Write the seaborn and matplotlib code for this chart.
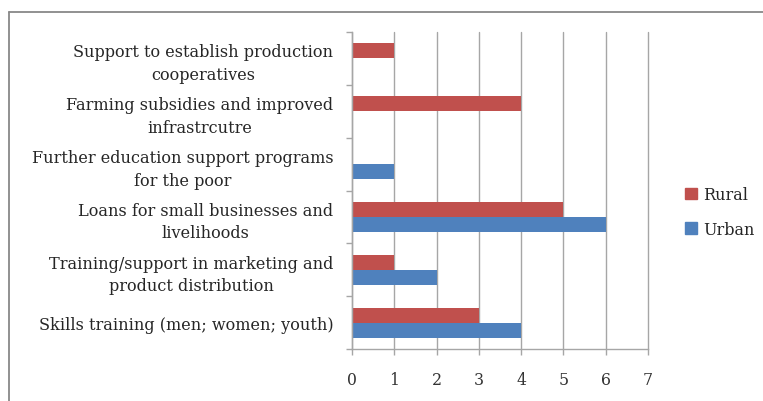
import matplotlib
matplotlib.use("Agg")
import matplotlib.pyplot as plt
import seaborn as sns
import pandas as pd
from matplotlib.lines import Line2D

categories = [
    "Support to establish production\ncooperatives",
    "Farming subsidies and improved\ninfrastrcutre",
    "Further education support programs\nfor the poor",
    "Loans for small businesses and\nlivelihoods",
    "Training/support in marketing and\nproduct distribution",
    "Skills training (men; women; youth)",
]
rural = [1, 4, 0, 5, 1, 3]
urban = [0, 0, 1, 6, 2, 4]
series_names = ["Rural", "Urban"]
x_ticks = [0, 1, 2, 3, 4, 5, 6, 7]

sns.set_theme(style="white")
plt.rcParams["font.family"] = ["DejaVu Serif"]

df = pd.DataFrame({
    "category": categories * 2,
    "value": rural + urban,
    "series": [series_names[0]] * len(categories) + [series_names[1]] * len(categories),
})

fig = plt.figure(figsize=(7.63, 4.02), dpi=100)
ax = fig.add_axes([352/763, 1 - 350/402, (648-352)/763, (350-33)/402])

sns.barplot(data=df, y="category", x="value", hue="series", hue_order=series_names,
            order=categories, orient="h", palette=["#C0504D", "#4F81BD"], saturation=1,
            width=0.57, linewidth=0, ax=ax, legend=True)

ax.set_xlim(0, 7)
ax.set_ylim(5.5, -0.5)
ax.set_xticks(x_ticks)
ax.set_xlabel("")
ax.set_ylabel("")
ax.xaxis.grid(True, color="#A6A6A6", linewidth=1.0)
for gl in ax.get_xgridlines():
    gl.set_clip_on(False)
ax.set_axisbelow(True)
for s in ["top", "right"]:
    ax.spines[s].set_visible(False)
for s in ["left", "bottom"]:
    ax.spines[s].set_color("#A6A6A6")
    ax.spines[s].set_linewidth(1.0)

ax.tick_params(axis="y", which="major", length=0, pad=13.5, labelsize=11.6, colors="#262626")
ax.set_yticks([i + 0.5 for i in range(-1, len(categories))], minor=True)
ax.tick_params(axis="y", which="minor", length=4.5, width=1.0, color="#A6A6A6", left=True)
ax.tick_params(axis="x", which="major", length=4, width=1.0, color="#A6A6A6", bottom=True,
               pad=12, labelsize=11.3, labelcolor="#333333")
for lbl in ax.get_yticklabels():
    lbl.set_multialignment("center")
    lbl.set_linespacing(1.42)

handles = [plt.Rectangle((0, 0), 1, 1, color=c) for c in ["#C0504D", "#4F81BD"]]
leg = ax.legend(handles, series_names, loc="center left", bbox_to_anchor=(685/763, 1 - 213/402),
                bbox_transform=fig.transFigure, frameon=False, fontsize=11.5,
                handlelength=0.75, handleheight=0.75, handletextpad=0.4, labelspacing=1.1,
                borderpad=0, borderaxespad=0)
for t in leg.get_texts():
    t.set_color("#262626")

fig.add_artist(Line2D([9/763, 9/763], [0, 1 - 13/402], transform=fig.transFigure,
                      color="#888888", linewidth=1.3))
fig.add_artist(Line2D([9/763, 1], [1 - 13/402, 1 - 13/402], transform=fig.transFigure,
                      color="#888888", linewidth=1.3))

fig.savefig("out.png", dpi=100)
